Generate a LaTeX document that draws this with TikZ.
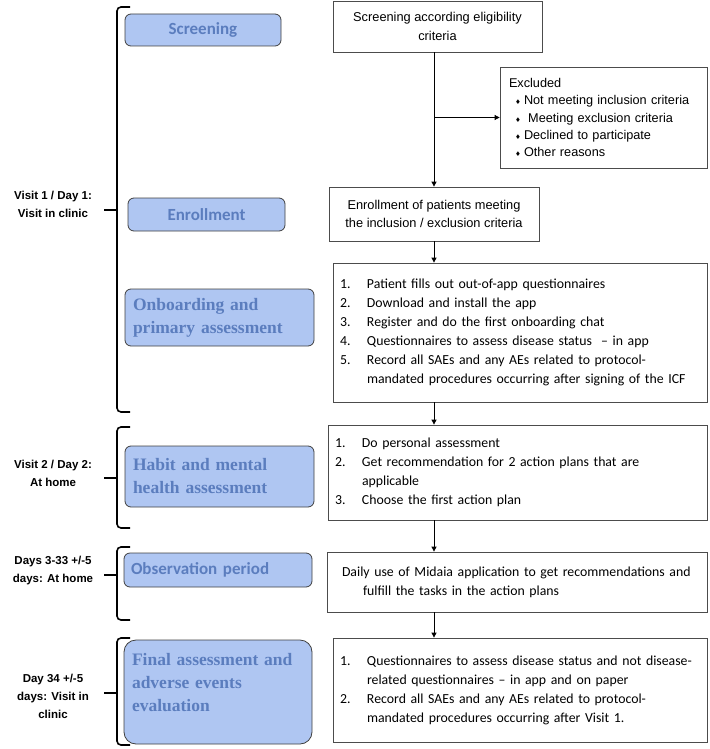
\documentclass[tikz,border=0pt]{standalone}
\usepackage{fontspec}
\setmainfont{Liberation Sans}
\newfontfamily\calfont{Carlito}
\newfontfamily\serfont{Liberation Serif}
\newfontfamily\symfont{DejaVu Sans}
\usetikzlibrary{arrows.meta}
\definecolor{boxfill}{HTML}{AFC6F2}
\definecolor{boxtext}{HTML}{5B7DBE}
\newcommand\bul{\makebox[15pt][l]{\hspace{6pt}{\symfont\fontsize{6.5}{6.5}\selectfont ♦}}}
\newcommand\itm[1]{\makebox[27pt][l]{#1}}
\newcommand\phasebrace[3]{%
  \draw[brace] (130,#1) -- (117,#1) -- (117,#2) -- (130,#2);
  \draw[brace] (104,#3) -- (117,#3);}
\tikzset{
 phase/.style={draw=black!75, line width=0.8pt, fill=boxfill, rounded corners=6pt, text=boxtext,
   font=\calfont\bfseries\fontsize{17}{20}\selectfont, inner sep=0pt},
 phaseser/.style={phase, font=\serfont\bfseries\fontsize{17.5}{23}\selectfont, align=left, inner xsep=8pt},
 stepbox/.style={draw=black!70, line width=0.8pt, inner sep=0pt},
 arial/.style={font=\fontsize{12.8}{18.5}\selectfont, align=center},
 cal/.style={font=\calfont\fontsize{13.8}{19}\selectfont, align=left},
 arr/.style={-{Triangle[length=5pt,width=5pt]}, line width=0.8pt},
 brace/.style={line width=1.6pt, rounded corners=4pt},
 period/.style={font=\bfseries\fontsize{11.5}{18}\selectfont, align=center}
}
\begin{document}
\begin{tikzpicture}[x=1pt,y=-1pt]
\useasboundingbox (0,0) rectangle (709,749);
% left phase boxes
\node[phase, minimum width=156pt, minimum height=32pt] (ph1) at (203,30) {Screening};
\node[phase, minimum width=157pt, minimum height=33pt] (ph2) at (206.5,214.5) {Enrollment};
\node[phaseser, minimum height=57pt, text width=173pt] (ph3) at (219.5,317.5) {Onboarding and\\primary assessment};
\node[phaseser, minimum height=61pt, text width=173pt] (ph4) at (219.5,476.5) {Habit and mental\\health assessment};
\node[phase, align=left, inner xsep=7pt, text width=174pt, minimum height=34pt] (ph5) at (218,570) {Observation period};
\node[phase, rounded corners=12pt, minimum width=188pt, minimum height=104pt] (ph6) at (218,692) {};
\node[phaseser, draw=none, fill=none, text width=172pt, anchor=west] (ph6t) at ([yshift=9pt]ph6.west) {Final assessment and\\adverse events\\evaluation};
% braces and period labels
\phasebrace{7}{412}{210}
\phasebrace{427}{528}{478}
\phasebrace{547}{620}{575}
\phasebrace{638}{745}{693}
\node[period] (l1) at (53,204) {Visit 1 / Day 1:\\Visit in clinic};
\node[period] (l2) at (53,473) {Visit 2 / Day 2:\\At home};
\node[period] (l3) at (53,571) {Days 3-33 +/-5\\days: At home};
\node[period] (l4) at (53,696) {Day 34 +/-5\\days: Visit in\\clinic};
% right step boxes
\node[stepbox, minimum width=209pt, minimum height=51pt, arial] (s1) at (437.5,26.5) {Screening according eligibility\\criteria};
\node[stepbox, minimum width=207pt, minimum height=101pt, align=left, text width=189pt, inner xsep=9pt,
  font=\fontsize{12.7}{17.3}\selectfont] (ex) at (603.5,117.5)
  {Excluded\\\bul Not meeting inclusion criteria\\\bul\ Meeting exclusion criteria\\\bul Declined to participate\\\bul Other reasons};
\node[stepbox, minimum width=210pt, minimum height=54pt, arial] (s2) at (434,214) {Enrollment of patients meeting\\the inclusion / exclusion criteria};
\node[stepbox, minimum width=374pt, minimum height=139pt, cal, text width=360pt, inner xsep=7pt] (s3) at (520,332.5)
  {\itm{1.}Patient fills out out-of-app questionnaires\\
   \itm{2.}Download and install the app\\
   \itm{3.}Register and do the first onboarding chat\\
   \itm{4.}Questionnaires to assess disease status \ – in app\\
   \itm{5.}Record all SAEs and any AEs related to protocol-\\
   \itm{}mandated procedures occurring after signing of the ICF};
\node[stepbox, minimum width=379pt, minimum height=95pt, cal, text width=365pt, inner xsep=7pt] (s4) at (517.5,472.5)
  {\itm{1.}Do personal assessment\\
   \itm{2.}Get recommendation for 2 action plans that are\\
   \itm{}applicable\\
   \itm{3.}Choose the first action plan};
\node[stepbox, minimum width=380pt, minimum height=60pt, cal, text width=366pt, inner xsep=7pt] (s5) at (517,582)
  {\hspace*{8pt}Daily use of Midaia application to get recommendations and\\
   \hspace*{29pt}fulfill the tasks in the action plans};
\node[stepbox, minimum width=374pt, minimum height=104pt, cal, text width=360pt, inner xsep=7pt] (s6) at (520,690)
  {\itm{1.}Questionnaires to assess disease status and not disease-\\
   \itm{}related questionnaires – in app and on paper\\
   \itm{2.}Record all SAEs and any AEs related to protocol-\\
   \itm{}mandated procedures occurring after Visit 1.};
% connectors
\draw[arr] (s1.south -| s2.north) -- (s2.north);
\draw[arr] (ex.west -| s2.north) -- (ex.west);
\draw[arr] (s2.south) -- (s2.south |- s3.north);
\draw[arr] (s2.south |- s3.south) -- (s2.south |- s4.north);
\draw[arr] (s2.south |- s4.south) -- (s2.south |- s5.north);
\draw[arr] (s2.south |- s5.south) -- (s2.south |- s6.north);
\end{tikzpicture}
\end{document}
